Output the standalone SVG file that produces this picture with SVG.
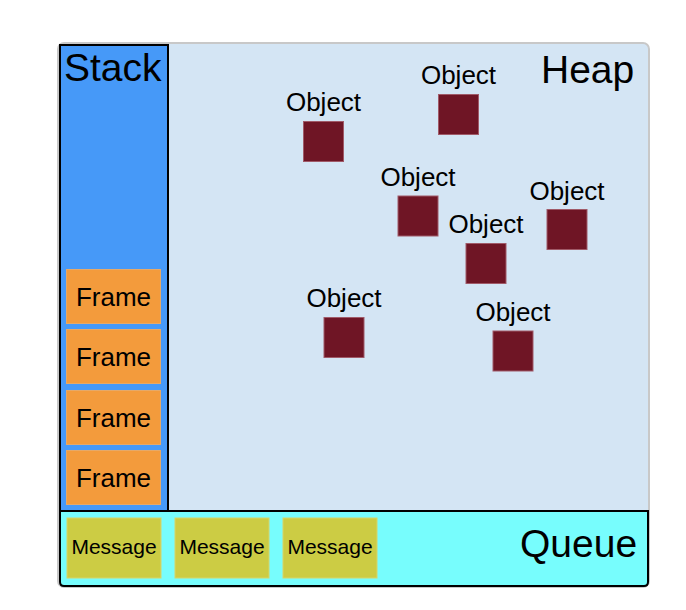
<svg xmlns="http://www.w3.org/2000/svg" width="686" height="610" viewBox="0 0 686 610">
<style>
text{font-family:"Liberation Sans",Arial,sans-serif;fill:#000}
.big{font-size:39px}
.lbl{font-size:26px;text-anchor:middle}
.msgt{font-size:21px;text-anchor:middle}
.obj{fill:#6f1525;stroke:#a05a68;stroke-width:1}
.frame{fill:#f39b3c;stroke:#e6a968;stroke-width:1}
.msg{fill:#cccc44;stroke:#d6d66a;stroke-width:1}
</style>
<rect width="686" height="610" fill="#ffffff"/>
<g id="heap">
<rect x="58" y="43" width="591" height="544" rx="6" fill="#d4e5f4" stroke="#c8c8c8" stroke-width="2"/>
<text class="big" x="541" y="83">Heap</text>
</g>
<g id="stack">
<rect x="60" y="45" width="108" height="466" fill="#4699f8" stroke="#000" stroke-width="2"/>
<text class="big" x="64" y="81">Stack</text>
</g>
<g id="queue">
<path d="M60,511 H648 V582 Q648,586 644,586 H64 Q60,586 60,582 Z" fill="#77fdfd" stroke="#000" stroke-width="2"/>
<text class="big" x="520" y="557">Queue</text>
</g>
<g id="frame1"><rect class="frame" x="66.5" y="269.5" width="94" height="54"/><text class="lbl" x="113.5" y="305.5">Frame</text></g>
<g id="frame2"><rect class="frame" x="66.5" y="329.5" width="94" height="54"/><text class="lbl" x="113.5" y="365.5">Frame</text></g>
<g id="frame3"><rect class="frame" x="66.5" y="390.5" width="94" height="54"/><text class="lbl" x="113.5" y="426.5">Frame</text></g>
<g id="frame4"><rect class="frame" x="66.5" y="450.5" width="94" height="54"/><text class="lbl" x="113.5" y="486.5">Frame</text></g>
<g id="message1"><rect class="msg" x="67" y="518" width="94" height="60"/><text class="msgt" x="114" y="554">Message</text></g>
<g id="message2"><rect class="msg" x="175" y="518" width="94" height="60"/><text class="msgt" x="222" y="554">Message</text></g>
<g id="message3"><rect class="msg" x="283" y="518" width="94" height="60"/><text class="msgt" x="330" y="554">Message</text></g>
<g id="object1"><text class="lbl" x="323.5" y="111">Object</text><rect class="obj" x="303.5" y="121.5" width="40" height="40"/></g>
<g id="object2"><text class="lbl" x="458.5" y="84">Object</text><rect class="obj" x="438.5" y="94.5" width="40" height="40"/></g>
<g id="object3"><text class="lbl" x="418" y="185.5">Object</text><rect class="obj" x="398" y="196" width="40" height="40"/></g>
<g id="object4"><text class="lbl" x="567" y="199.5">Object</text><rect class="obj" x="547" y="209.5" width="40" height="40"/></g>
<g id="object5"><text class="lbl" x="486" y="232.5">Object</text><rect class="obj" x="466" y="243.5" width="40" height="40"/></g>
<g id="object6"><text class="lbl" x="344" y="307">Object</text><rect class="obj" x="324" y="317.5" width="40" height="40"/></g>
<g id="object7"><text class="lbl" x="513" y="320.5">Object</text><rect class="obj" x="493" y="331" width="40" height="40"/></g>
<g id="connectors"></g>
</svg>
